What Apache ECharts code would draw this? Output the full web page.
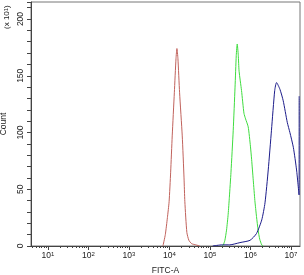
<!DOCTYPE html>
<html>
<head>
<meta charset="utf-8">
<title>FITC-A</title>
<script src="https://cdn.jsdelivr.net/npm/echarts@6/dist/echarts.min.js"></script>
<style>
  html, body { margin: 0; padding: 0; background: #fff; }
  #main { width: 304px; height: 275px; }
</style>
</head>
<body>
<div id="main"></div>
<script>
// FITC-A intensity (x) and count (y) for each histogram
var redX = [6900, 7900, 8900, 9800, 10700, 11700, 13200, 14500, 15300, 16200, 17800, 20700, 22900, 24000, 26900, 30200, 35500, 44700, 56200];
var redY = [0, 10, 25, 39, 65, 97, 135, 165, 174, 165, 135, 97, 60, 39, 12, 5, 2, 1, 0];

var greenX = [200000, 214000, 234000, 257000, 282000, 302000, 331000, 376000, 417000, 447000, 472000, 501000, 525000, 603000, 692000, 759000, 881000, 1000000, 1072000, 1175000, 1288000, 1413000, 1549000, 1698000, 1905000, 2089000];
var greenY = [0, 1, 5, 14, 28, 43, 65, 102, 140, 168, 178, 168, 154, 137, 117, 112, 105, 88, 76, 58, 40, 26, 14, 6, 1, 0];

var blueX = [117000, 200000, 309000, 550000, 977000, 1413000, 1905000, 2291000, 2754000, 3311000, 3981000, 4416000, 5370000, 6457000, 8128000, 9441000, 11482000, 13804000, 15900000, 16000000];
var blueY = [0, 1, 1, 3, 5, 11, 23, 38, 67, 102, 137, 144, 138, 128, 109, 100, 87, 67, 45, 132];

// axis ticks
var majorTicks = [10, 100, 1000, 10000, 100000, 1000000, 10000000];
var minorTicks = [];
for (var p = 1; p <= 1e7; p *= 10) {
    for (var m = 2; m <= 9; m++) {
        if (m * p > 3.8 && m * p < 16777216) minorTicks.push(m * p);
    }
}
var yLabels = [0, 50, 100, 150, 200];

function pairs(xs, ys) {
    var out = [];
    for (var i = 0; i < xs.length; i++) out.push([xs[i], ys[i]]);
    return out;
}

var myChart = echarts.init(document.getElementById('main'));
var textColor = '#222';
var font = 'Liberation Sans';

var option = {
    animation: false,
    grid: {
        left: 31, right: 4, top: 2, bottom: 29,
        outerBoundsMode: 'none',
        containLabel: false,
        show: true, borderColor: '#777', borderWidth: 1
    },
    graphic: [{
        type: 'text',
        x: 3, y: 29,
        rotation: Math.PI / 2,
        style: {
            text: '(x 10{sup|1})',
            fontSize: 8, fontFamily: font, fill: textColor,
            rich: { sup: { fontSize: 6, verticalAlign: 'top', fontFamily: font, fill: textColor } }
        }
    }],
    xAxis: [{
        type: 'log',
        logBase: 10,
        min: 3.8,
        max: 16777216,
        name: 'FITC-A',
        nameLocation: 'middle',
        nameGap: 20,
        nameTextStyle: { fontSize: 8.5, fontFamily: font, color: textColor },
        axisLine: { lineStyle: { color: '#444' } },
        splitLine: { show: false },
        axisTick: { customValues: majorTicks, length: 4, lineStyle: { color: '#444' } },
        axisLabel: {
            customValues: majorTicks,
            margin: 5,
            fontSize: 8.5, fontFamily: font, color: textColor,
            formatter: function (v) {
                return '10{sup|' + Math.round(Math.log10(v)) + '}';
            },
            rich: { sup: { fontSize: 6, verticalAlign: 'top', fontFamily: font, color: textColor } }
        }
    }, {
        type: 'log',
        logBase: 10,
        min: 3.8,
        max: 16777216,
        position: 'bottom',
        axisLine: { show: false },
        splitLine: { show: false },
        axisTick: { customValues: minorTicks, length: 2, lineStyle: { color: '#444' } },
        axisLabel: { show: false }
    }],
    yAxis: {
        type: 'value',
        min: 0,
        max: 215,
        interval: 10,
        name: 'Count',
        nameLocation: 'middle',
        nameRotate: 90,
        nameGap: 21,
        nameTextStyle: { fontSize: 8.5, fontFamily: font, color: textColor },
        axisLine: { show: true, lineStyle: { color: '#444' } },
        splitLine: { show: false },
        axisTick: { length: 4, lineStyle: { color: '#444' } },
        axisLabel: {
            rotate: 90,
            margin: 6,
            fontSize: 8.5, fontFamily: font, color: textColor,
            formatter: function (v) {
                return yLabels.indexOf(v) >= 0 ? String(v) : '';
            }
        }
    },
    series: [{
        type: 'line', data: pairs(redX, redY), showSymbol: false, smooth: 0.2,
        lineStyle: { color: '#c0625c', width: 1 }
    }, {
        type: 'line', data: pairs(greenX, greenY), showSymbol: false, smooth: 0.2,
        lineStyle: { color: '#3fdc3f', width: 1 }
    }, {
        type: 'line', data: pairs(blueX, blueY), showSymbol: false, smooth: 0.2,
        lineStyle: { color: '#1c1c8a', width: 1 }
    }]
};
myChart.setOption(option);
</script>
</body>
</html>
